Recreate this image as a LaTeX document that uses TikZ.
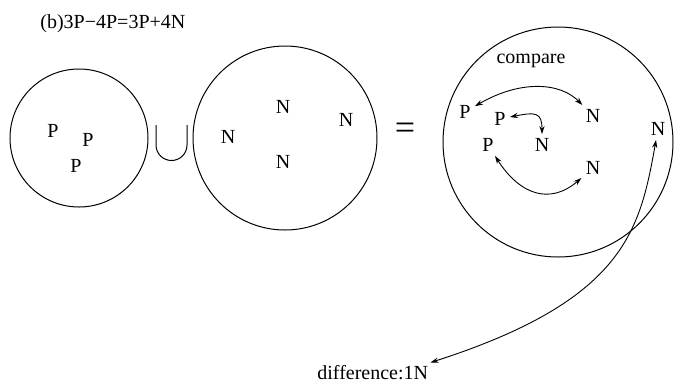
\documentclass[tikz,border=0pt]{standalone}
\usepackage{fontspec}
\setmainfont{Liberation Serif}
\usetikzlibrary{arrows.meta}

\begin{document}
\begin{tikzpicture}[
  x=0.5pt, y=-0.5pt,
  lbl/.style={font=\fontsize{10}{12}\selectfont, inner sep=2pt},
  ring/.style={line width=0.5pt},
  arr/.style={{Stealth[length=4pt,width=2.6pt]}-{Stealth[length=4pt,width=2.6pt]}, line width=0.45pt}
]
  \useasboundingbox (0,0) rectangle (674,381);

  % title
  \node[lbl, anchor=base west, inner sep=0pt] (title) at (40,28) {(b)3P−4P=3P+4N};

  % left side: 3P union 4N
  \draw[ring] (79,138) circle[radius=69];
  \node[lbl] (p1) at (53,131) {P};
  \node[lbl] (p2) at (88,140) {P};
  \node[lbl] (p3) at (76,166) {P};

  \draw[ring] (156,125) -- (156,145) arc[start angle=180, end angle=0, radius=15.5] -- (187,125);

  \draw[ring] (285,138) circle[radius=92];
  \node[lbl] (n1) at (228,137) {N};
  \node[lbl] (n2) at (283,107) {N};
  \node[lbl] (n3) at (346,120) {N};
  \node[lbl] (n4) at (283,162) {N};

  \node[font=\fontsize{18}{20}\selectfont, inner sep=0pt] (eq) at (405,131) {=};

  % right side: compare
  \draw[ring] (558,142) circle[radius=115];
  \node[lbl, anchor=base] (cmp) at (531,63) {compare};
  \node[lbl] (qa) at (465,112) {P};
  \node[lbl] (qb) at (500,119) {P};
  \node[lbl] (qc) at (488,145) {P};
  \node[lbl] (ma) at (593,116) {N};
  \node[lbl] (mb) at (542,145) {N};
  \node[lbl] (mc) at (593,168) {N};
  \node[lbl] (md) at (658,129) {N};

  \node[lbl, anchor=base west, inner sep=1pt] (diff) at (315,379) {difference:1N};

  \draw[arr] (qa) .. controls (520,80) and (560,82) .. (ma);
  \draw[arr] (qb) .. controls (535,112) and (542,112) .. (mb);
  \draw[arr] (qc) .. controls (520,195) and (550,205) .. (mc);
  \draw[arr] (md) .. controls (640,230) and (625,300) .. (diff.north east);
\end{tikzpicture}
\end{document}
